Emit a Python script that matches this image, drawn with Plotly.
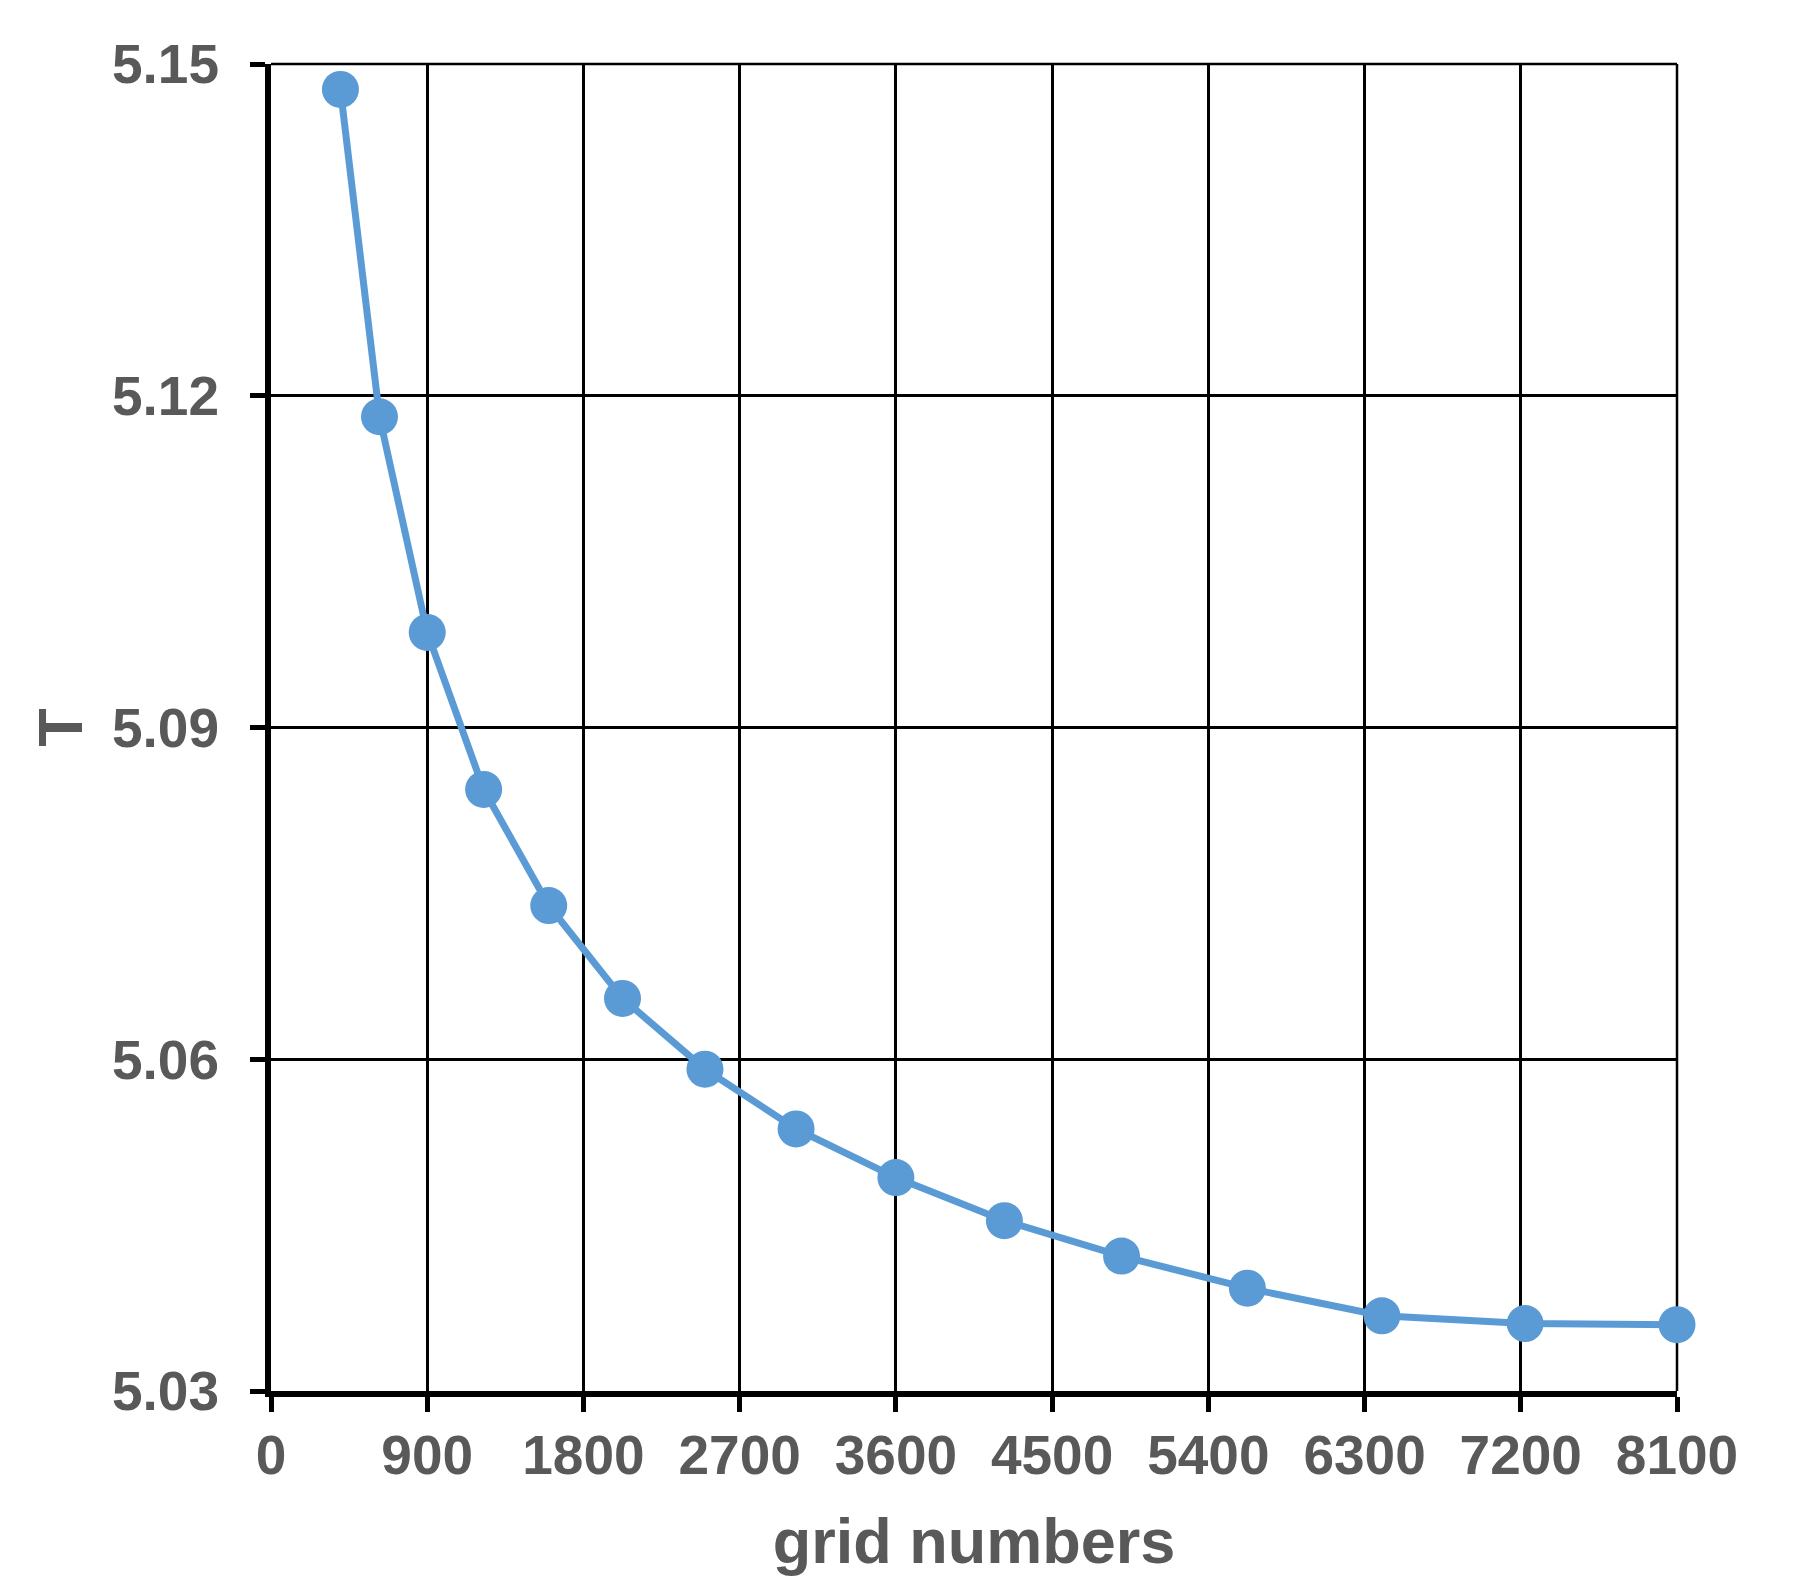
import plotly.graph_objects as go

# grid size study: temperature T against number of grid cells
grid_numbers = [400, 625, 900, 1225, 1600, 2025, 2500, 3025, 3600,
                4225, 4900, 5625, 6400, 7225, 8100]
T_values = [5.1477, 5.1181, 5.0986, 5.0844, 5.0739, 5.0655, 5.0591, 5.0537,
            5.0493, 5.0454, 5.0422, 5.0393, 5.0368, 5.0361, 5.0360]

x_ticks = [0, 900, 1800, 2700, 3600, 4500, 5400, 6300, 7200, 8100]
y_ticks = [5.03, 5.06, 5.09, 5.12, 5.15]

BLUE = "#5b9bd5"
TEXT = "#595959"
FONT = "Liberation Sans, Arial, sans-serif"

fig = go.Figure(go.Scatter(
    x=grid_numbers,
    y=T_values,
    mode="lines+markers",
    line=dict(color=BLUE, width=7),
    marker=dict(color=BLUE, size=37),
    showlegend=False,
    cliponaxis=False,
))

# thin frame on top and right, same weight as the grid
fig.add_shape(type="line", xref="paper", yref="paper", x0=0, x1=1, y0=1, y1=1,
              line=dict(color="black", width=2.5), layer="below")
fig.add_shape(type="line", xref="paper", yref="paper", x0=1, x1=1, y0=0, y1=1,
              line=dict(color="black", width=2.5), layer="below")

fig.update_layout(
    width=1797,
    height=1592,
    margin=dict(l=263, r=128, t=56, b=209),
    paper_bgcolor="white",
    plot_bgcolor="white",
    font=dict(family=FONT, size=55, color=TEXT),
)

fig.update_xaxes(
    range=[0, 8100],
    tickvals=x_ticks,
    ticktext=[f"<b>{v}</b>" for v in x_ticks],
    showgrid=True, gridcolor="black", gridwidth=2.5,
    showline=True, linecolor="black", linewidth=6,
    ticks="outside", ticklen=15, tickwidth=5, tickcolor="black",
    ticklabelstandoff=-4,
    zeroline=False,
    title=dict(text="<b>grid numbers</b>", font=dict(size=63, color=TEXT), standoff=36),
)
fig.update_yaxes(
    range=[5.03, 5.15],
    tickvals=y_ticks,
    ticktext=[f"<b>{v:.2f}</b>" for v in y_ticks],
    showgrid=True, gridcolor="black", gridwidth=2.5,
    showline=True, linecolor="black", linewidth=6,
    ticks="outside", ticklen=15, tickwidth=5, tickcolor="black",
    ticklabelstandoff=20,
    zeroline=False,
    title=dict(text="<b>T</b>", font=dict(size=63, color=TEXT), standoff=11),
)

fig.write_html("out.html")
